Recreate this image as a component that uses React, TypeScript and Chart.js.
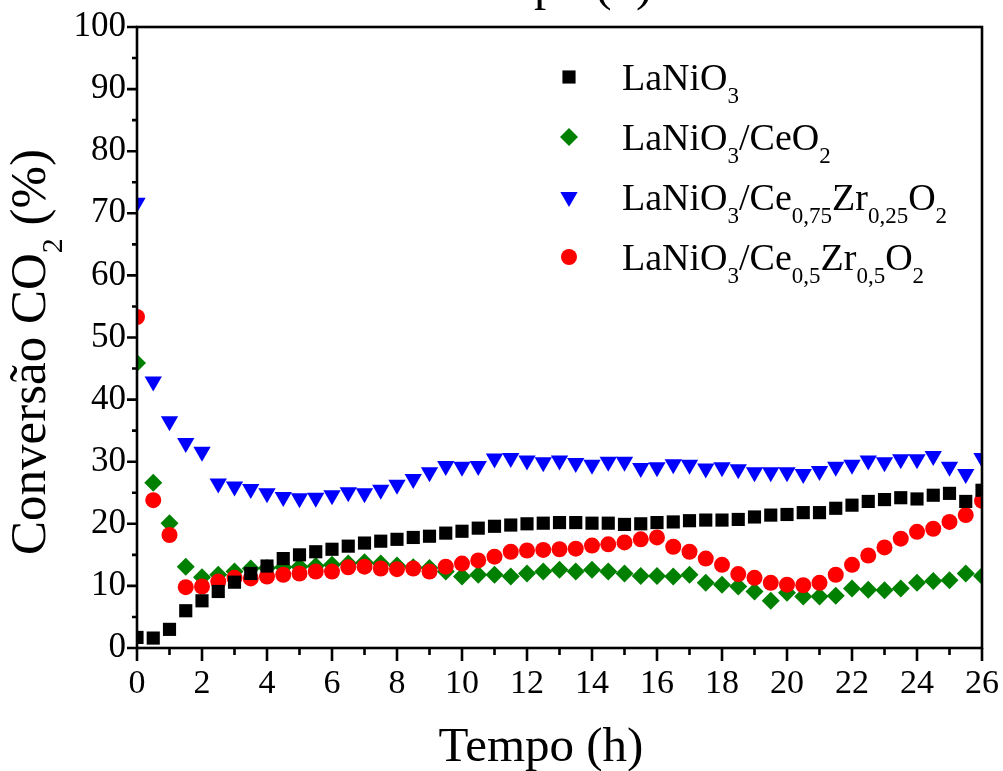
import React, { useEffect, useRef } from "react";
import { Chart, registerables } from "chart.js";

Chart.register(...registerables);

const FONT = "'Liberation Serif', 'Times New Roman', serif";

const times = [
  0, 0.5, 1, 1.5, 2, 2.5, 3, 3.5, 4, 4.5, 5, 5.5, 6, 6.5, 7, 7.5, 8, 8.5, 9, 9.5,
  10, 10.5, 11, 11.5, 12, 12.5, 13, 13.5, 14, 14.5, 15, 15.5, 16, 16.5, 17, 17.5,
  18, 18.5, 19, 19.5, 20, 20.5, 21, 21.5, 22, 22.5, 23, 23.5, 24, 24.5, 25, 25.5, 26,
];

const lanio3 = [
  1.7, 1.6, 3.0, 6.0, 7.6, 9.1, 10.6, 12.0, 13.2, 14.4,
  15.0, 15.5, 15.9, 16.4, 16.9, 17.2, 17.5, 17.8, 18.0, 18.5,
  18.8, 19.3, 19.6, 19.8, 20.0, 20.1, 20.2, 20.2, 20.1, 20.1,
  19.9, 20.0, 20.2, 20.3, 20.5, 20.6, 20.6, 20.7, 21.1, 21.4,
  21.5, 21.8, 21.8, 22.5, 23.0, 23.6, 23.9, 24.2, 24.0, 24.6,
  24.9, 23.6, 25.4,
];

const lanio3CeO2 = [
  45.9, 26.6, 20.1, 13.1, 11.4, 11.8, 12.3, 12.8, 12.9, 13.0,
  13.1, 13.2, 13.4, 13.6, 13.8, 13.6, 13.3, 13.0, 12.9, 12.3,
  11.5, 11.8, 11.8, 11.5, 12.0, 12.3, 12.6, 12.3, 12.6, 12.3,
  12.0, 11.6, 11.6, 11.5, 11.8, 10.5, 10.2, 9.9, 9.1, 7.6,
  8.9, 8.3, 8.3, 8.4, 9.6, 9.4, 9.3, 9.6, 10.5, 10.8,
  10.9, 12.0, 11.6,
];

const lanio3Ce75Zr25 = [
  71.7, 42.9, 36.5, 33.0, 31.6, 26.5, 26.0, 25.6, 24.9, 24.3,
  24.1, 24.2, 24.6, 25.1, 24.9, 25.5, 26.3, 27.2, 28.3, 29.3,
  29.2, 29.3, 30.5, 30.6, 30.2, 29.9, 30.2, 29.8, 29.5, 30.0,
  30.0, 29.0, 29.1, 29.6, 29.5, 28.9, 29.1, 28.8, 28.3, 28.3,
  28.3, 28.0, 28.5, 29.2, 29.5, 30.2, 29.9, 30.4, 30.4, 30.9,
  29.2, 28.0, 30.6,
];

const lanio3Ce50Zr50 = [
  53.3, 23.8, 18.2, 9.8, 9.9, 10.7, 11.3, 11.2, 11.5, 11.8,
  12.0, 12.3, 12.3, 13.0, 13.1, 12.8, 12.7, 12.8, 12.3, 13.1,
  13.6, 14.1, 14.7, 15.5, 15.7, 15.8, 15.9, 16.0, 16.5, 16.7,
  17.0, 17.5, 17.8, 16.3, 15.5, 14.4, 13.4, 11.9, 11.3, 10.5,
  10.2, 10.1, 10.5, 11.8, 13.4, 14.9, 16.2, 17.6, 18.7, 19.2,
  20.3, 21.4, 23.7,
];

const xMajorTicks = [0, 2, 4, 6, 8, 10, 12, 14, 16, 18, 20, 22, 24, 26];
const xMinorTicks = [1, 3, 5, 7, 9, 11, 13, 15, 17, 19, 21, 23, 25];
const yMajorTicks = [0, 10, 20, 30, 40, 50, 60, 70, 80, 90, 100];
const yMinorTicks = [5, 15, 25, 35, 45, 55, 65, 75, 85, 95];

type Seg = [string, boolean];

const seriesNames: Seg[][] = [
  [["LaNiO", false], ["3", true]],
  [["LaNiO", false], ["3", true], ["/CeO", false], ["2", true]],
  [["LaNiO", false], ["3", true], ["/Ce", false], ["0,75", true], ["Zr", false], ["0,25", true], ["O", false], ["2", true]],
  [["LaNiO", false], ["3", true], ["/Ce", false], ["0,5", true], ["Zr", false], ["0,5", true], ["O", false], ["2", true]],
];
const seriesColors = ["#000000", "#008000", "#0000ff", "#ff0000"];
const seriesStyles = ["rect", "rectRot", "triangleDown", "circle"];
const seriesRadius = [9.3, 9, 10, 8];
const seriesOrder = [0, 2, 3, 1];

const yTitle: Seg[] = [["Conversão CO", false], ["2", true], [" (%)", false]];
const xTitle = "Tempo (h)";

function drawMarker(ctx: CanvasRenderingContext2D, style: string, x: number, y: number, r: number, color: string) {
  ctx.save();
  ctx.fillStyle = color;
  ctx.beginPath();
  if (style === "rect") {
    const s = r * Math.SQRT1_2;
    ctx.rect(x - s, y - s, 2 * s, 2 * s);
  } else if (style === "rectRot") {
    ctx.moveTo(x - r, y);
    ctx.lineTo(x, y - r);
    ctx.lineTo(x + r, y);
    ctx.lineTo(x, y + r);
    ctx.closePath();
  } else if (style === "triangleDown") {
    const h = r * Math.sin(Math.PI / 3);
    ctx.moveTo(x, y + r);
    ctx.lineTo(x - h, y - r / 2);
    ctx.lineTo(x + h, y - r / 2);
    ctx.closePath();
  } else {
    ctx.arc(x, y, r, 0, Math.PI * 2);
  }
  ctx.fill();
  ctx.restore();
}

function segWidth(ctx: CanvasRenderingContext2D, segs: Seg[], main: number, sub: number) {
  let w = 0;
  for (const [t, s] of segs) {
    ctx.font = `${s ? sub : main}px ${FONT}`;
    w += ctx.measureText(t).width;
  }
  return w;
}

function drawSegs(ctx: CanvasRenderingContext2D, segs: Seg[], x: number, y: number, main: number, sub: number, off: number) {
  let cx = x;
  for (const [t, s] of segs) {
    ctx.font = `${s ? sub : main}px ${FONT}`;
    ctx.fillText(t, cx, s ? y + off : y);
    cx += ctx.measureText(t).width;
  }
}

const decorPlugin = {
  id: "decor",
  afterDraw(chart: any) {
    const ctx: CanvasRenderingContext2D = chart.ctx;
    const { left, right, top, bottom } = chart.chartArea;
    const xs = chart.scales.x;
    const ys = chart.scales.y;
    ctx.save();
    ctx.strokeStyle = "#000";
    ctx.lineWidth = 2.6;
    ctx.lineCap = "butt";
    ctx.beginPath();
    for (const v of xMajorTicks) {
      const px = xs.getPixelForValue(v);
      ctx.moveTo(px, bottom);
      ctx.lineTo(px, bottom + 13);
    }
    for (const v of xMinorTicks) {
      const px = xs.getPixelForValue(v);
      ctx.moveTo(px, bottom);
      ctx.lineTo(px, bottom + 7);
    }
    for (const v of yMajorTicks) {
      const py = ys.getPixelForValue(v);
      ctx.moveTo(left, py);
      ctx.lineTo(left - 10, py);
    }
    for (const v of yMinorTicks) {
      const py = ys.getPixelForValue(v);
      ctx.moveTo(left, py);
      ctx.lineTo(left - 5, py);
    }
    ctx.stroke();
    ctx.strokeRect(left, top, right - left, bottom - top);

    ctx.fillStyle = "#000";
    ctx.textBaseline = "alphabetic";
    ctx.textAlign = "left";

    const lx = 569;
    const tx = 622;
    const rowsY = [77, 137, 197, 257];
    const baseY = [90, 150, 210, 270];
    seriesNames.forEach((segs, i) => {
      drawMarker(ctx, seriesStyles[i], lx, rowsY[i], seriesRadius[i], seriesColors[i]);
      ctx.fillStyle = "#000";
      drawSegs(ctx, segs, tx, baseY[i], 38, 23, 13);
    });

    ctx.font = `49px ${FONT}`;
    ctx.textAlign = "center";
    ctx.fillText(xTitle, 541, 761);
    ctx.fillText(xTitle, 550, 0);
    ctx.textAlign = "left";

    ctx.save();
    ctx.translate(45, 352);
    ctx.rotate(-Math.PI / 2);
    const w = segWidth(ctx, yTitle, 51, 30);
    drawSegs(ctx, yTitle, -w / 2, 0, 51, 30, 17);
    ctx.restore();

    ctx.restore();
  },
};

export default function App() {
  const ref = useRef<HTMLCanvasElement | null>(null);

  useEffect(() => {
    if (!ref.current) return;
    const mk = (vals: number[]) => times.map((t, i) => ({ x: t, y: vals[i] }));
    const allSeries = [lanio3, lanio3CeO2, lanio3Ce75Zr25, lanio3Ce50Zr50];
    const chart = new Chart(ref.current, {
      type: "scatter",
      data: {
        datasets: allSeries.map((vals, i) => ({
          label: seriesNames[i].map((s) => s[0]).join(""),
          data: mk(vals),
          pointStyle: seriesStyles[i] === "triangleDown" ? "triangle" : (seriesStyles[i] as any),
          rotation: seriesStyles[i] === "triangleDown" ? 180 : 0,
          pointRadius: seriesRadius[i],
          pointHoverRadius: seriesRadius[i],
          pointBackgroundColor: seriesColors[i],
          pointBorderColor: seriesColors[i],
          pointBorderWidth: 0,
          showLine: false,
          clip: 0,
          order: seriesOrder[i],
        })),
      },
      options: {
        responsive: false,
        animation: false,
        devicePixelRatio: 1,
        layout: { padding: { left: 0, top: 27, right: 21, bottom: 0 } },
        plugins: {
          legend: { display: false },
          tooltip: { enabled: false },
          title: { display: false },
        },
        scales: {
          x: {
            type: "linear",
            min: 0,
            max: 26,
            afterBuildTicks: (s: any) => {
              s.ticks = xMajorTicks.map((v) => ({ value: v }));
            },
            afterFit: (s: any) => {
              s.height = 123;
              s.paddingLeft = 0;
              s.paddingRight = 0;
            },
            grid: { display: false, drawTicks: false },
            border: { display: false },
            ticks: {
              color: "#000",
              padding: 16,
              maxRotation: 0,
              autoSkip: false,
              font: { family: FONT, size: 34 },
              callback: (v: any) => String(v),
            },
          },
          y: {
            type: "linear",
            min: 0,
            max: 100,
            afterBuildTicks: (s: any) => {
              s.ticks = yMajorTicks.map((v) => ({ value: v }));
            },
            afterFit: (s: any) => {
              s.width = 137;
              s.paddingTop = 0;
              s.paddingBottom = 0;
            },
            grid: { display: false, drawTicks: false },
            border: { display: false },
            ticks: {
              color: "#000",
              padding: 11,
              autoSkip: false,
              font: { family: FONT, size: 35 },
              callback: (v: any) => String(v),
            },
          },
        },
      },
      plugins: [decorPlugin],
    });
    return () => chart.destroy();
  }, []);

  return (
    <div style={{ position: "absolute", left: 0, top: 0, width: 1003, height: 771, background: "#fff" }}>
      <canvas ref={ref} width={1003} height={771} style={{ display: "block", width: 1003, height: 771 }} />
    </div>
  );
}
